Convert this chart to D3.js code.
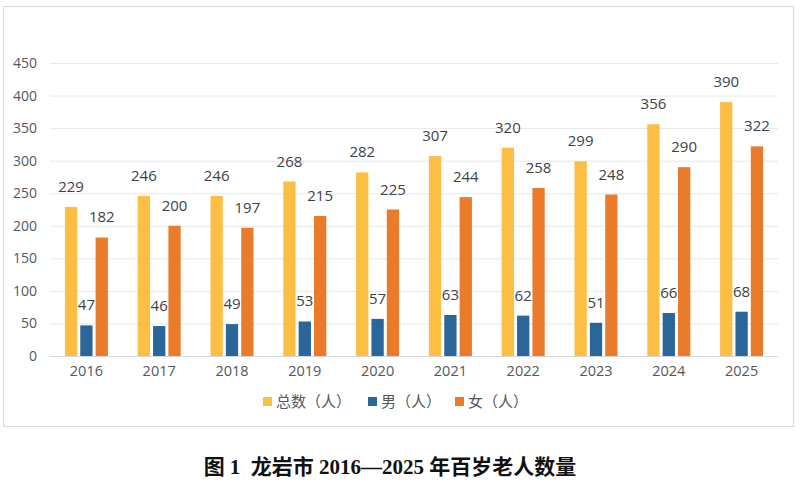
<!DOCTYPE html>
<html>
<head>
<meta charset="utf-8">
<script src="https://cdn.jsdelivr.net/npm/d3@7"></script>
<style>
  body { margin: 0; background: #fff; }
  svg { display: block; }
</style>
</head>
<body>
<svg id="chart" width="800" height="490"></svg>
<script>
// data
const years = ["2016", "2017", "2018", "2019", "2020", "2021", "2022", "2023", "2024", "2025"];
const seriesNames = ["总数（人）", "男（人）", "女（人）"];
const totalCount = [229, 246, 246, 268, 282, 307, 320, 299, 356, 390];
const maleCount = [47, 46, 49, 53, 57, 63, 62, 51, 66, 68];
const femaleCount = [182, 200, 197, 215, 225, 244, 258, 248, 290, 322];
const yTicks = [0, 50, 100, 150, 200, 250, 300, 350, 400, 450];
const caption = "图 1  龙岩市 2016—2025 年百岁老人数量";

const colors = ["#FDBE44", "#2B669B", "#EA7B2B"];
const seriesValues = [totalCount, maleCount, femaleCount];

const svg = d3.select("#chart");
const plotLeft = 50, plotRight = 778, plotTop = 63, plotBottom = 356;

// chart frame
svg.append("rect")
    .attr("x", 3.5).attr("y", 6.5)
    .attr("width", 790).attr("height", 420)
    .attr("fill", "none")
    .attr("stroke", "#d5dde2")
    .attr("stroke-width", 1.2);

const x = d3.scaleBand().domain(years).range([plotLeft, plotRight]);
const groupW = 43;
const x1 = d3.scaleBand().domain(d3.range(3)).range([-groupW / 2, groupW / 2]).paddingInner(0.2);
const y = d3.scaleLinear().domain([0, 450]).range([plotBottom, plotTop]);

// gridlines
svg.append("g")
    .selectAll("line")
    .data(yTicks)
    .join("line")
    .attr("x1", plotLeft).attr("x2", plotRight)
    .attr("y1", d => y(d) + 0.5).attr("y2", d => y(d) + 0.5)
    .attr("stroke", d => d === 0 ? "#d0d6da" : "#e4e9ec")
    .attr("stroke-width", 1);

// y axis labels
const yAxis = svg.append("g")
    .attr("transform", `translate(${plotLeft - 13},0)`)
    .call(d3.axisLeft(y).tickValues(yTicks).tickSize(0).tickPadding(0));
yAxis.select(".domain").remove();
yAxis.selectAll("text")
    .attr("font-family", "Open Sans, sans-serif")
    .attr("font-size", 14)
    .attr("fill", "#53585c");

// x axis labels
const xAxis = svg.append("g")
    .attr("transform", `translate(0,${plotBottom + 10})`)
    .call(d3.axisBottom(x).tickSize(0).tickPadding(0));
xAxis.select(".domain").remove();
xAxis.selectAll("text")
    .attr("font-family", "Open Sans, sans-serif")
    .attr("font-size", 14.5)
    .attr("fill", "#53585c");

// bars + labels
const rows = years.map((yr, i) => ({ year: yr, vals: seriesValues.map(s => s[i]) }));
const groups = svg.append("g")
    .selectAll("g")
    .data(rows)
    .join("g")
    .attr("transform", d => `translate(${x(d.year) + x.bandwidth() / 2},0)`);

groups.selectAll("rect")
    .data(d => d.vals.map((v, k) => ({ v, k })))
    .join("rect")
    .attr("x", d => x1(d.k))
    .attr("width", x1.bandwidth())
    .attr("y", d => y(d.v))
    .attr("height", d => y(0) - y(d.v))
    .attr("fill", d => colors[d.k]);

groups.selectAll("text")
    .data(d => d.vals.map((v, k) => ({ v, k })))
    .join("text")
    .attr("x", d => x1(d.k) + x1.bandwidth() / 2)
    .attr("y", d => y(d.v) - 15)
    .attr("text-anchor", "middle")
    .attr("font-family", "Open Sans, sans-serif")
    .attr("font-size", 15)
    .attr("fill", "#3d4245")
    .text(d => d.v);

// legend
const legendX = [263, 368, 455];
const legend = svg.append("g")
    .selectAll("g")
    .data(seriesNames)
    .join("g")
    .attr("transform", (d, i) => `translate(${legendX[i]},402)`);
legend.append("rect")
    .attr("x", 0).attr("y", -5)
    .attr("width", 9).attr("height", 9)
    .attr("fill", (d, i) => colors[i]);
legend.append("text")
    .attr("x", 13).attr("y", 0)
    .attr("dy", "0.36em")
    .attr("font-family", "Noto Sans CJK SC, sans-serif")
    .attr("font-size", 15)
    .attr("fill", "#53585c")
    .text(d => d);

// caption
svg.append("text")
    .attr("x", 390).attr("y", 474)
    .attr("text-anchor", "middle")
    .attr("font-family", "Liberation Serif, Noto Sans CJK SC, serif")
    .attr("font-weight", "bold")
    .attr("font-size", 21)
    .attr("fill", "#111")
    .attr("xml:space", "preserve")
    .style("white-space", "pre")
    .text(caption);
</script>
</body>
</html>
